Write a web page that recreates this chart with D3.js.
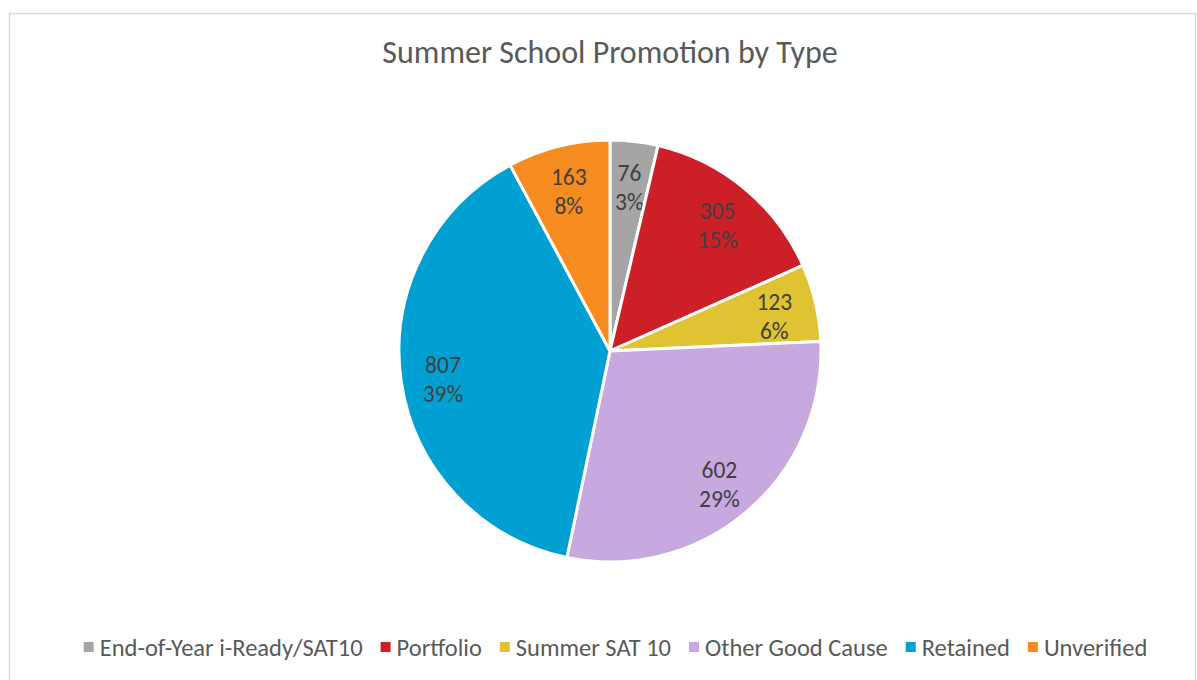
<!DOCTYPE html>
<html>
<head>
<meta charset="utf-8">
<script src="https://cdn.jsdelivr.net/npm/d3@7"></script>
<style>
	body { margin: 0; background: #fff; }
	svg { display: block; }
</style>
</head>
<body>
<svg id="svg_main" width="1197" height="680"></svg>
<script>
var categories = ["End-of-Year i-Ready/SAT10", "Portfolio", "Summer SAT 10", "Other Good Cause", "Retained", "Unverified"],
	values = [76, 305, 123, 602, 807, 163],
	percentLabels = ["3%", "15%", "6%", "29%", "39%", "8%"],
	colors = ["#a5a5a5", "#cc1f27", "#e0c332", "#c7a9df", "#00a0d2", "#f68b1f"];

var title = "Summer School Promotion by Type";
var font = "Calibri, Carlito, 'Open Sans', sans-serif";

var svg = d3.select("#svg_main");

// chart frame
svg.append("rect")
	.attr("x", 9.5)
	.attr("y", 13.5)
	.attr("width", 1186)
	.attr("height", 700)
	.attr("fill", "#fff")
	.attr("stroke", "#d9d9d9")
	.attr("stroke-width", 1.5);

svg.append("text")
	.attr("x", 610)
	.attr("y", 63)
	.attr("text-anchor", "middle")
	.attr("font-family", font)
	.attr("font-size", "32px")
	.attr("fill", "#595959")
	.text(title);

var data = categories.map((c, i) => ({ name: c, value: values[i], pct: percentLabels[i], color: colors[i] }));

var cx = 610, cy = 351, radius = 211;

var pie = d3.pie().sort(null).value(d => d.value);
var arc = d3.arc().innerRadius(0).outerRadius(radius);
var labelArc = d3.arc().innerRadius(radius * 0.8).outerRadius(radius * 0.8);

var g = svg.append("g")
	.attr("transform", `translate(${cx}, ${cy})`);

var slices = g.selectAll(".slice")
	.data(pie(data))
	.enter().append("g")
	.attr("class", "slice");

slices.append("path")
	.attr("d", arc)
	.attr("fill", d => d.data.color)
	.attr("stroke", "#fff")
	.attr("stroke-width", 3)
	.attr("stroke-linejoin", "round");

var labels = slices.append("text")
	.attr("transform", d => `translate(${labelArc.centroid(d)})`)
	.attr("text-anchor", "middle")
	.attr("font-family", font)
	.attr("font-size", "23.5px")
	.attr("fill", "#404040");
labels.append("tspan")
	.attr("x", 0)
	.attr("y", -2)
	.text(d => d.data.value);
labels.append("tspan")
	.attr("x", 0)
	.attr("y", 27)
	.text(d => d.data.pct);

// legend
var legend = svg.append("g")
	.attr("class", "legend");

var items = legend.selectAll(".item")
	.data(data)
	.enter().append("g")
	.attr("class", "item");

items.append("rect")
	.attr("width", 10)
	.attr("height", 10)
	.attr("y", -14)
	.attr("fill", d => d.color);

items.append("text")
	.attr("x", 16)
	.attr("font-family", font)
	.attr("font-size", "24.5px")
	.attr("fill", "#595959")
	.text(d => d.name);

var offsets = [], pos = 0;
items.each(function() {
	offsets.push(pos);
	pos += 16 + d3.select(this).select("text").node().getComputedTextLength() + 18;
});
var total = pos - 18,
	start = 615.5 - total / 2;
items.attr("transform", (d, i) => `translate(${start + offsets[i]}, 656)`);
</script>
</body>
</html>
